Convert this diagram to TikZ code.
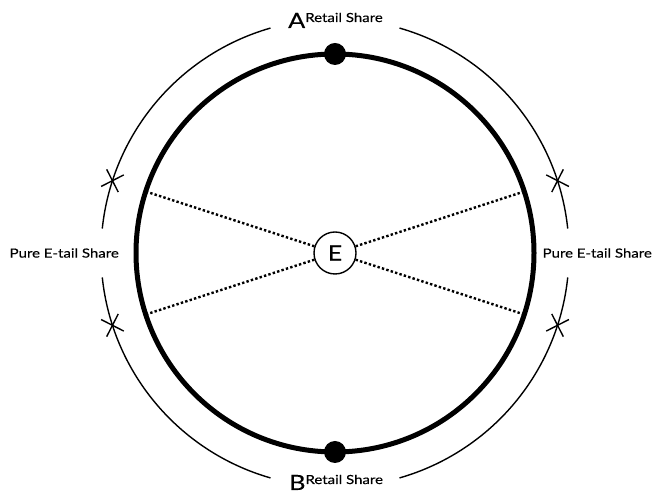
\documentclass[tikz,border=0pt]{standalone}
\usepackage{fontspec}
\setmainfont[FakeStretch=1.2, FakeBold=0.3]{Lato}
\begin{document}
\begin{tikzpicture}[x=1pt,y=1pt,
  thin arc/.style={line width=1.4pt},
  crossmark/.style={line width=1.4pt},
  dotline/.style={line width=2.4pt, dash pattern=on 2.4pt off 2.2pt},
  bigdot/.style={circle, fill=black, inner sep=0pt, minimum size=22pt},
  sidelabel/.style={font=\fontsize{12.5}{14}\selectfont, inner sep=0pt}]
\useasboundingbox (0,0) rectangle (653,497);
\fill[white] (0,0) rectangle (653,497);
\coordinate (C) at (335,244);
% main circle
\draw[line width=5pt] (C) circle[radius=199];
% centre node
\node[circle, draw, line width=1.4pt, fill=white, minimum size=42pt, inner sep=0pt,
      font=\fontsize{21}{21}\selectfont] (E) at (C) {E};
% points on the main circle
\foreach \n/\a in {pr1/18, pr2/-18, pl1/162, pl2/198} {
  \path (C) ++(\a:199) coordinate (\n);
}
\foreach \n in {pr1, pr2, pl1, pl2} {
  \draw[dotline] (E) -- (\n);
}
\node[bigdot] (A) at ([shift={(90:199)}]C) {};
\node[bigdot] (B) at ([shift={(-90:199)}]C) {};
% outer arcs
\foreach \s/\e in {106/174, 186/254, 74/6, -6/-74} {
  \draw[thin arc] ([shift={(\s:234)}]C) arc[start angle=\s, end angle=\e, radius=234];
}
% crosses
\foreach \a in {18, -18, 162, 198} {
  \path (C) ++(\a:234) coordinate (x\a);
  \draw[crossmark, shift={(x\a)}, rotate=\a] (-9,-9) -- (9,9) (-9,9) -- (9,-9);
}
% labels
\node[anchor=base west, inner sep=0pt] (la) at (288,469)
  {\fontsize{21}{21}\selectfont A\raisebox{6pt}{\fontsize{12.5}{12}\selectfont Retail Share}};
\node[anchor=base west, inner sep=0pt] (lb) at (289,7)
  {\fontsize{21}{21}\selectfont B\raisebox{6pt}{\fontsize{12.5}{12}\selectfont Retail Share}};
\node[sidelabel, anchor=east] (ll) at (119,244) {Pure E-tail Share};
\node[sidelabel, anchor=east] (lr) at (652,244) {Pure E-tail Share};
\end{tikzpicture}
\end{document}
